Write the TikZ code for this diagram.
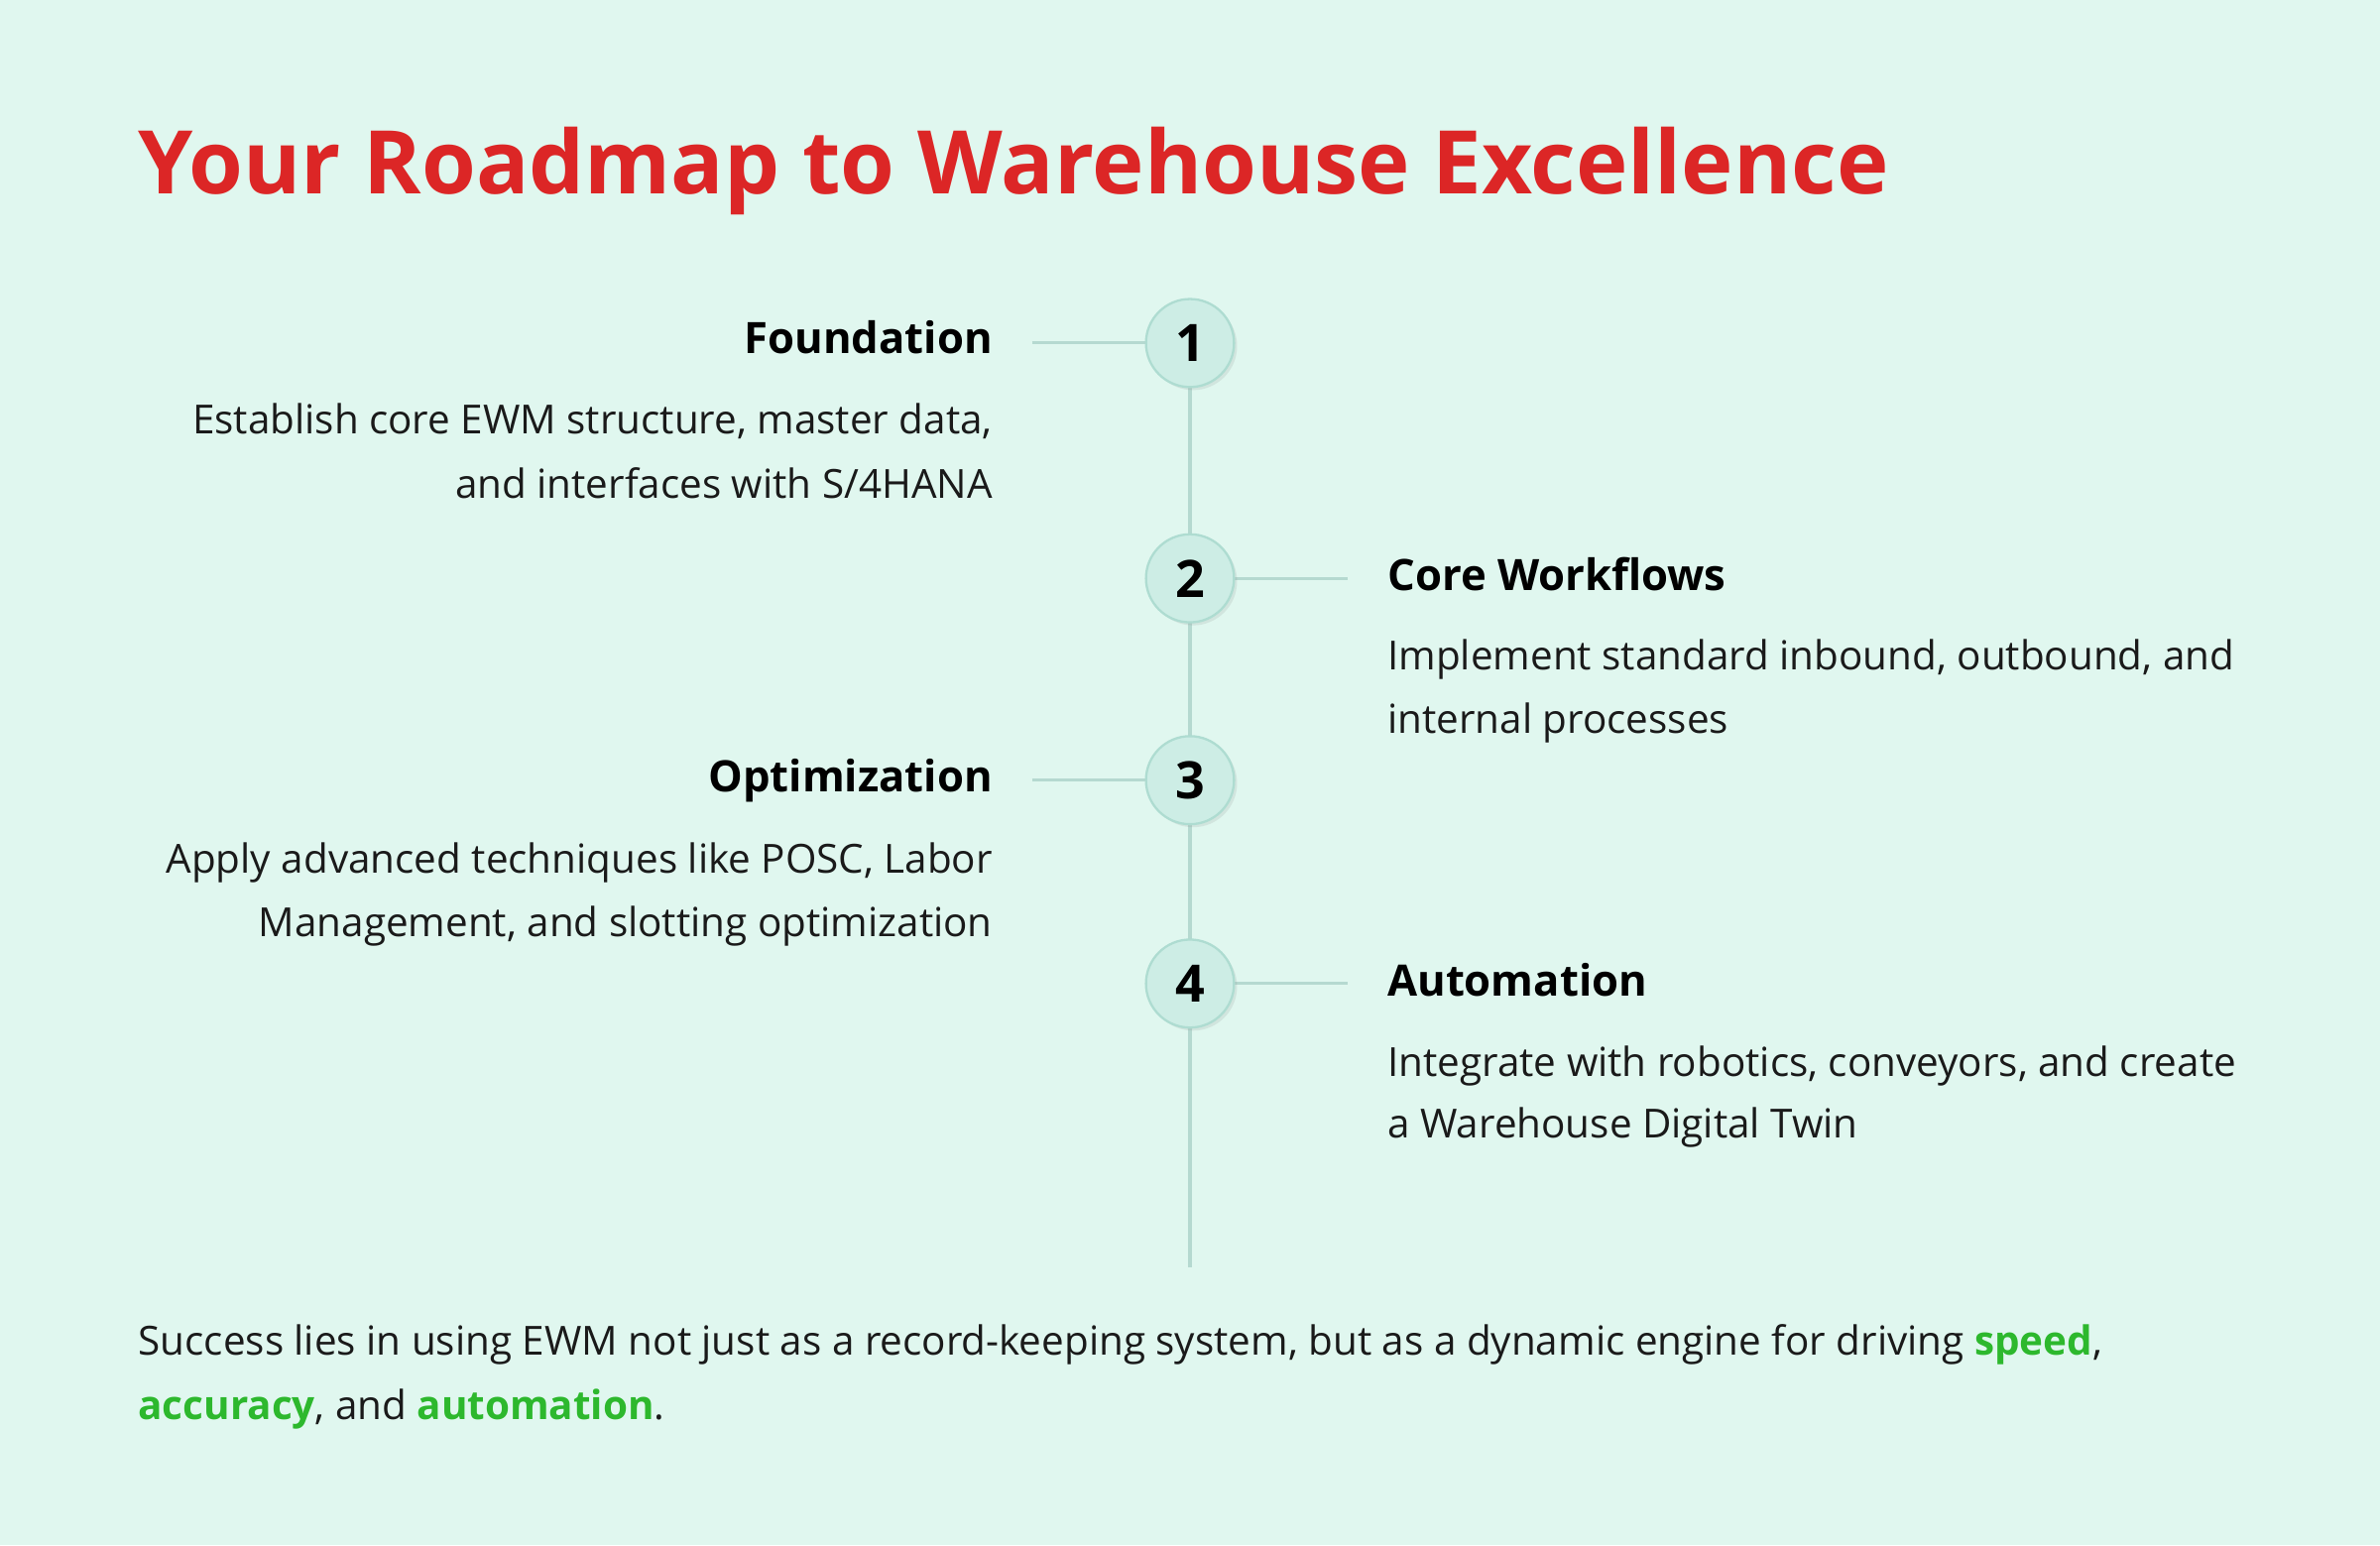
\documentclass[tikz,border=0pt]{standalone}
\usepackage{fontspec}
\setmainfont{Open Sans}
\usetikzlibrary{shadows}
\definecolor{bg}{HTML}{E0F7EF}
\definecolor{ttl}{HTML}{DC2626}
\definecolor{ln}{HTML}{B5D9D0}
\definecolor{cf}{HTML}{CDEDE5}
\definecolor{cb}{HTML}{AEDCD1}
\definecolor{grn}{HTML}{2DB82D}
\definecolor{txt}{HTML}{1A1A1A}
\begin{document}
\begin{tikzpicture}[x=1pt,y=1pt,
  hd/.style={font=\fontsize{28.5}{30}\selectfont\bfseries,text=black,inner sep=0},
  ds/.style={font=\fontsize{26.4}{28}\selectfont,text=txt,inner sep=0},
  num/.style={circle,minimum size=58pt,fill=cf,draw=cb,line width=1.5pt,font=\fontsize{34}{36}\selectfont\bfseries,drop shadow={shadow xshift=2pt,shadow yshift=-2pt,opacity=0.15}},
  cn/.style={ln,line width=2pt}]
\fill[bg] (0,0) rectangle (1568,-1018);
\useasboundingbox (0,0) rectangle (1568,-1018);
\node[anchor=base west,font=\fontsize{57.9}{70}\selectfont\bfseries,text=ttl,inner sep=0] (title) at (91,-128) {Your Roadmap to Warehouse Excellence};
\coordinate (bot) at (784,-835);
\coordinate (top) at (784,-226);
\draw[cn] (top) -- (bot);
\coordinate (l1) at (680,-226);\coordinate (r2) at (888,-381);
\coordinate (l3) at (680,-514);\coordinate (r4) at (888,-648);
\draw[cn] (l1) -- (784,-226);\draw[cn] (r2) -- (784,-381);
\draw[cn] (l3) -- (784,-514);\draw[cn] (r4) -- (784,-648);
\node[num] (n1) at (784,-226) {1};
\node[num] (n2) at (784,-381) {2};
\node[num] (n3) at (784,-514) {3};
\node[num] (n4) at (784,-648) {4};
\node[hd,anchor=base east] (h1) at (654,-233) {Foundation};
\node[ds,anchor=base east] (d1a) at (654,-286) {Establish core EWM structure, master data,};
\node[ds,anchor=base east] (d1b) at (654,-328) {and interfaces with S/4HANA};
\node[hd,anchor=base west] (h2) at (914,-389) {Core Workflows};
\node[ds,anchor=base west] (d2a) at (914,-441) {Implement standard inbound, outbound, and};
\node[ds,anchor=base west] (d2b) at (914,-483) {internal processes};
\node[hd,anchor=base east] (h3) at (654,-522) {Optimization};
\node[ds,anchor=base east] (d3a) at (654,-575) {Apply advanced techniques like POSC, Labor};
\node[ds,anchor=base east] (d3b) at (654,-617) {Management, and slotting optimization};
\node[hd,anchor=base west] (h4) at (914,-656) {Automation};
\node[ds,anchor=base west] (d4a) at (914,-709) {Integrate with robotics, conveyors, and create};
\node[ds,anchor=base west] (d4b) at (914,-750) {a Warehouse Digital Twin};
\node[ds,anchor=base west] (f1) at (91,-893) {Success lies in using EWM not just as a record-keeping system, but as a dynamic engine for driving \textcolor{grn}{\bfseries speed},};
\node[ds,anchor=base west] (f2) at (91,-935) {\textcolor{grn}{\bfseries accuracy}, and \textcolor{grn}{\bfseries automation}.};
\end{tikzpicture}
\end{document}
